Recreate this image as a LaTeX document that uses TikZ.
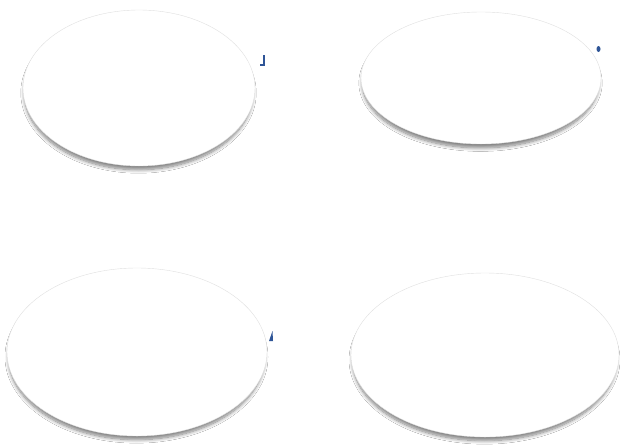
\documentclass[tikz,border=0pt]{standalone}
\usetikzlibrary{shapes.geometric,shadows.blur}
\definecolor{markblue}{HTML}{2F5597}
\tikzset{
  oval/.style={ellipse, draw=black!12, line width=0.4pt, fill=white, inner sep=0pt,
    blur shadow={shadow xshift=-0.5pt, shadow yshift=-5pt, shadow scale=0.985, shadow blur steps=10, shadow blur radius=3.5pt, shadow opacity=50}},
  markstroke/.style={draw=markblue, line width=1.5pt},
}
\begin{document}
\begin{tikzpicture}[x=1pt,y=-1pt]
\useasboundingbox[fill=white] (0,0) rectangle (620,447);
\node[oval, minimum width=232pt, minimum height=156pt] (tl) at (139,88) {};
\node[oval, minimum width=240pt, minimum height=132pt] (tr) at (481,78) {};
\node[oval, minimum width=260pt, minimum height=168pt] (bl) at (137,352) {};
\node[oval, minimum width=268pt, minimum height=164pt] (br) at (485,355) {};
\coordinate (m1) at (264,55);
\draw[markstroke] (m1) -- ++(0,10) -- ++(-4,0);
\fill[markblue] (598.5,49) ellipse (2pt and 3pt);
\fill[markblue] (272.5,331) -- (273,341) -- (269,341) -- cycle;
\end{tikzpicture}
\end{document}
